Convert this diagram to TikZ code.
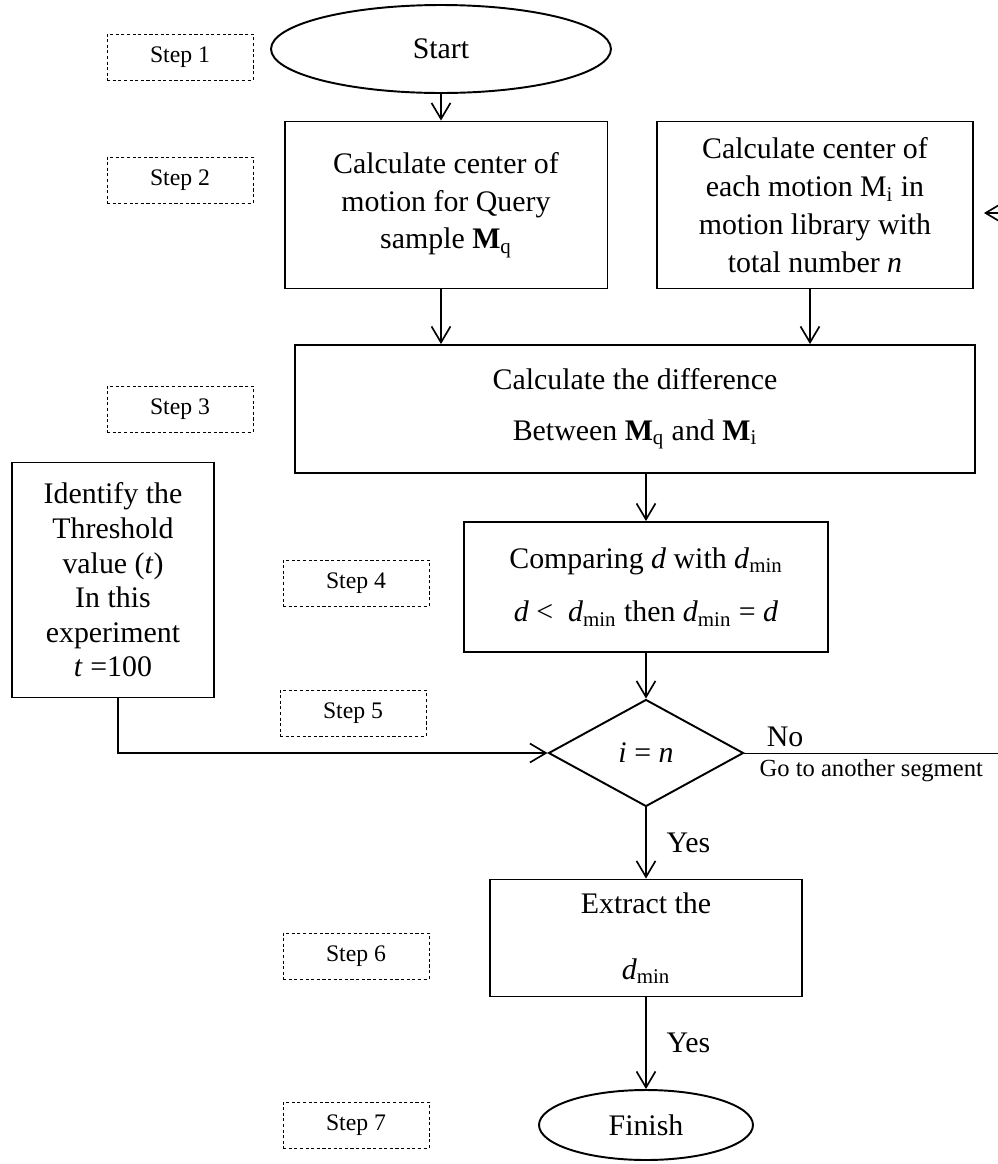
\documentclass[tikz,border=0pt]{standalone}
\usepackage{fontspec}
\setmainfont{Liberation Serif}
\usetikzlibrary{shapes.geometric,arrows.meta}

\begin{document}
\begin{tikzpicture}[
    x=0.02cm, y=-0.02cm,
    every node/.style={font=\fontsize{17}{21.5}\selectfont},
    stepbox/.style={rectangle, draw, dash pattern=on 1.8pt off 1.4pt, line width=0.55pt, minimum width=2.92cm, minimum height=0.92cm, font=\fontsize{13.5}{16}\selectfont},
    box/.style={rectangle, draw, line width=1.1pt, align=center, inner sep=0pt},
    term/.style={ellipse, draw, line width=1.1pt, inner sep=0pt},
    arrow/.style={-{Straight Barb[length=0.32cm, width=0.38cm]}, line width=0.95pt},
]
    \useasboundingbox (0,0) rectangle (998,1164);

    % Steps on the left
    \node[stepbox] (s1) at (180,57) {Step 1};
    \node[stepbox] (s2) at (180,180) {Step 2};
    \node[stepbox] (s3) at (180,409) {Step 3};
    \node[stepbox] (s4) at (356,583) {Step 4};
    \node[stepbox] (s5) at (353,713) {Step 5};
    \node[stepbox] (s6) at (356,956) {Step 6};
    \node[stepbox] (s7) at (356,1125) {Step 7};

    % Start and the two centre boxes
    \node[term, minimum width=6.8cm, minimum height=1.76cm] (start) at (441,49) {Start};
    \node[box, minimum width=6.46cm, minimum height=3.34cm] (mq) at (446,205) {Calculate center of\\motion for Query\\sample \textbf{M}\textsubscript{q}};
    \node[box, minimum width=6.32cm, minimum height=3.34cm] (mi) at (815,205) {Calculate center of\\each motion M\textsubscript{i} in\\motion library with\\total number \textit{n}};
    \node[box, minimum width=13.6cm, minimum height=2.56cm] (diff) at (635,409) {Calculate the difference\\[7pt]Between \textbf{M}\textsubscript{q} and \textbf{M}\textsubscript{i}};

    % Threshold and comparison
    \node[box, minimum width=4.04cm, minimum height=4.7cm, font=\fontsize{17}{19.7}\selectfont] (thr) at (113,580) {Identify the\\Threshold\\value (\textit{t})\\In this\\experiment\\\textit{t} =100};
    \node[box, minimum width=7.28cm, minimum height=2.6cm] (cmp) at (646,587) {Comparing \textit{d} with \textit{d}\textsubscript{min}\\[9pt]\textit{d} <\ \ \textit{d}\textsubscript{min} then \textit{d}\textsubscript{min} = \textit{d}};
    \node[diamond, draw, line width=1.1pt, inner sep=0pt, minimum width=3.9cm, minimum height=2.14cm] (dec) at (646,753) {\textit{i} = \textit{n}};

    % End
    \node[box, minimum width=6.24cm, minimum height=2.34cm] (ext) at (646,938) {Extract the\\[16pt]\textit{d}\textsubscript{min}};
    \node[term, minimum width=4.28cm, minimum height=1.4cm] (finish) at (646,1125) {Finish};

    \coordinate (noend) at (998,753);
    \coordinate (loopin) at (998,213);

    % Connectors
    \draw[arrow] (start.south) -- (start.south |- mq.north);
    \draw[arrow] (mq.south -| start.south) -- (start.south |- diff.north);
    \draw[arrow] (mi.south -| 810,0) -- (diff.north -| 810,0);
    \draw[arrow] (diff.south -| cmp.north) -- (cmp.north);
    \draw[arrow] (cmp.south) -- (dec.north);
    \draw[arrow] (thr.south -| 118,0) |- (dec.west);
    \draw (dec.east) -- node[pos=0.16, above] {No} node[pos=0.5, below, font=\fontsize{14}{16}\selectfont] {Go to another segment} (noend);
    \draw[arrow] (dec.south) -- node[right, xshift=0.28cm] {Yes} (ext.north);
    \draw[arrow] (ext.south) -- node[right, xshift=0.28cm] {Yes} (finish.north);
    \draw[arrow, shorten >=0.2cm] (loopin) -- (loopin -| mi.east);
\end{tikzpicture}
\end{document}
